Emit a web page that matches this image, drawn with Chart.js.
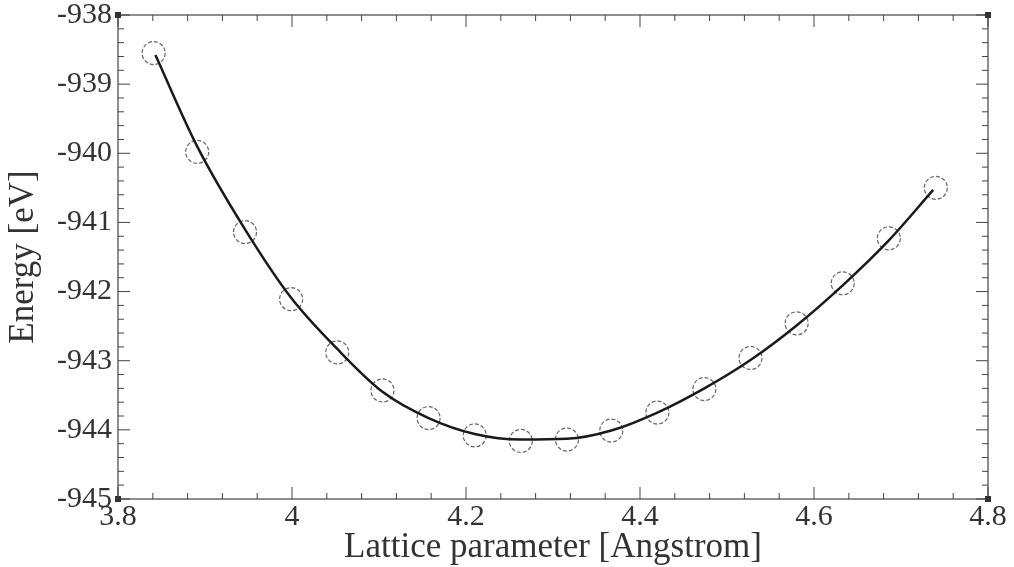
<!DOCTYPE html>
<html>
<head>
<meta charset="utf-8">
<script src="https://cdn.jsdelivr.net/npm/chart.js@4"></script>
<style>
  html, body { margin: 0; padding: 0; background: #fff; }
  #wrap { width: 1014px; height: 567px; }
</style>
</head>
<body>
<div id="wrap"><canvas id="c"></canvas></div>
<script>
// computed points (lattice parameter, energy)
const latticeA = [3.841, 3.891, 3.946, 3.999, 4.052, 4.104, 4.157, 4.210, 4.263,
                  4.316, 4.367, 4.420, 4.474, 4.527, 4.580, 4.633, 4.686, 4.740];
const energyEv = [-938.55, -939.98, -941.14, -942.11, -942.88, -943.43, -943.83, -944.08, -944.16,
                  -944.14, -944.01, -943.75, -943.41, -942.96, -942.46, -941.88, -941.23, -940.50];

// fitted curve
const fitA = [3.843, 3.891, 3.946, 3.999, 4.052, 4.104, 4.157, 4.210, 4.263,
              4.316, 4.367, 4.420, 4.474, 4.527, 4.580, 4.633, 4.686, 4.737];
const fitE = [-938.58, -939.90, -941.10, -942.09, -942.83, -943.45, -943.83, -944.06, -944.14,
              -944.13, -944.01, -943.75, -943.40, -942.99, -942.49, -941.91, -941.26, -940.53];

const xTicks = [3.8, 4, 4.2, 4.4, 4.6, 4.8];
const yTicks = [-945, -944, -943, -942, -941, -940, -939, -938];

const ink = '#333';
const serif = '"Liberation Serif", "DejaVu Serif", serif';

// frame with inward major/minor ticks on all four sides
const framePlugin = {
  id: 'frame',
  afterDraw(chart) {
    const { ctx, chartArea: a, scales: { x, y } } = chart;
    ctx.save();
    ctx.strokeStyle = '#444';
    ctx.lineWidth = 1.2;
    ctx.strokeRect(a.left, a.top, a.right - a.left, a.bottom - a.top);
    ctx.lineWidth = 1;
    for (let i = 0; i <= 25; i++) {
      const v = 3.8 + i * 0.04;
      const px = x.getPixelForValue(v);
      const len = i % 5 === 0 ? 12 : 6;
      ctx.beginPath();
      ctx.moveTo(px, a.bottom); ctx.lineTo(px, a.bottom - len);
      ctx.moveTo(px, a.top); ctx.lineTo(px, a.top + len);
      ctx.stroke();
    }
    for (let i = 0; i <= 35; i++) {
      const v = -945 + i * 0.2;
      const py = y.getPixelForValue(v);
      const len = i % 5 === 0 ? 12 : 6;
      ctx.beginPath();
      ctx.moveTo(a.left, py); ctx.lineTo(a.left + len, py);
      ctx.moveTo(a.right, py); ctx.lineTo(a.right - len, py);
      ctx.stroke();
    }
    ctx.fillStyle = '#333';
    [[a.left, a.top], [a.right, a.top], [a.left, a.bottom], [a.right, a.bottom]].forEach(([cx, cy]) => {
      ctx.fillRect(cx - 3, cy - 3, 6, 6);
    });
    ctx.restore();
  }
};

// dashed outline for the circle markers
const dashPlugin = {
  id: 'dash',
  beforeDatasetDraw(chart, args) {
    if (args.index === 1) { chart.ctx.save(); chart.ctx.setLineDash([4, 2]); }
  },
  afterDatasetDraw(chart, args) {
    if (args.index === 1) chart.ctx.restore();
  }
};

new Chart(document.getElementById('c'), {
  type: 'scatter',
  data: {
    datasets: [
      {
        label: 'fit',
        data: fitA.map((a, i) => ({ x: a, y: fitE[i] })),
        showLine: true,
        borderColor: '#1a1a1a',
        borderWidth: 2.5,
        pointRadius: 0,
        cubicInterpolationMode: 'monotone'
      },
      {
        label: 'data',
        data: latticeA.map((a, i) => ({ x: a, y: energyEv[i] })),
        showLine: false,
        pointStyle: 'circle',
        pointRadius: 11.5,
        pointBorderWidth: 1.2,
        pointBorderColor: '#666',
        pointBackgroundColor: 'rgba(0,0,0,0)'
      }
    ]
  },
  options: {
    responsive: true,
    maintainAspectRatio: false,
    animation: false,
    layout: { padding: { top: 15, right: 26, left: 0, bottom: 0 } },
    plugins: { legend: { display: false }, tooltip: { enabled: false } },
    scales: {
      x: {
        type: 'linear',
        min: 3.8, max: 4.8,
        afterBuildTicks: s => { s.ticks = xTicks.map(v => ({ value: v })); },
        afterFit: s => { s.height = 68; s.paddingLeft = 0; s.paddingRight = 0; },
        grid: { display: false, drawTicks: false },
        border: { display: false },
        ticks: {
          color: ink,
          padding: 3,
          font: { family: serif, size: 30, lineHeight: 1 },
          callback: v => String(Math.round(v * 10) / 10)
        },
        title: {
          display: true,
          text: 'Lattice parameter [Angstrom]',
          color: ink,
          font: { family: serif, size: 35, lineHeight: 1 },
          padding: { top: 0, bottom: 2 }
        }
      },
      y: {
        type: 'linear',
        min: -945, max: -938,
        afterBuildTicks: s => { s.ticks = yTicks.map(v => ({ value: v })); },
        afterFit: s => { s.width = 118; s.paddingTop = 0; s.paddingBottom = 0; },
        grid: { display: false, drawTicks: false },
        border: { display: false },
        ticks: {
          color: ink,
          padding: 6,
          font: { family: serif, size: 30, lineHeight: 1 },
          callback: v => String(v)
        },
        title: {
          display: true,
          text: 'Energy [eV]',
          color: ink,
          font: { family: serif, size: 35, lineHeight: 1 },
          padding: { top: 6, bottom: 0 }
        }
      }
    }
  },
  plugins: [framePlugin, dashPlugin]
});
</script>
</body>
</html>
